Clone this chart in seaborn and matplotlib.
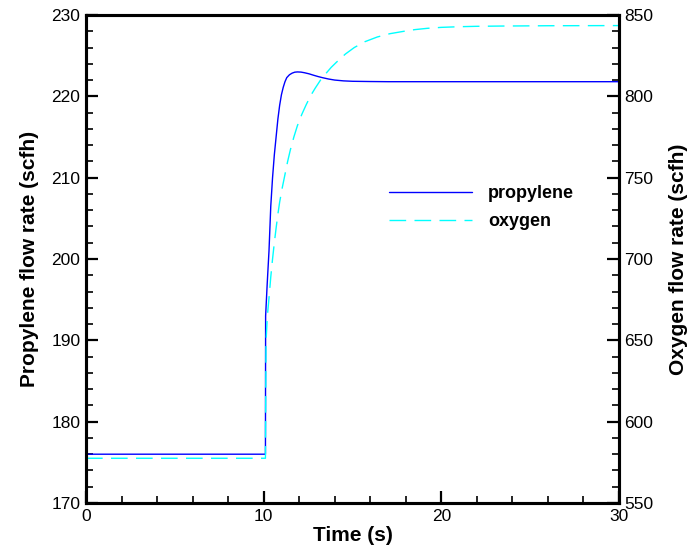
import matplotlib
matplotlib.use("Agg")
import matplotlib.pyplot as plt
from matplotlib.ticker import MultipleLocator
import seaborn as sns
import pandas as pd

# Propylene flow (left axis, scfh)
t_prop = [0, 10.1, 10.11, 10.2, 10.3, 10.4, 10.5, 10.6, 10.7, 10.8, 10.9, 11.0,
          11.1, 11.2, 11.3, 11.45, 11.6, 11.75, 11.9, 12.1, 12.3, 12.55, 12.8,
          13.05, 13.3, 13.65, 14.0, 14.5, 15.0, 16.0, 17.0, 20.0, 25.0, 30.0]
propylene = [176, 176, 193, 197, 201, 206.5, 210, 212.8, 215, 217.2, 218.9, 220.2,
             221.1, 221.8, 222.3, 222.65, 222.85, 222.97, 223.0, 222.98, 222.9, 222.77, 222.6,
             222.44, 222.3, 222.13, 222.0, 221.9, 221.85, 221.82, 221.8, 221.8, 221.8, 221.8]

# Oxygen flow (right axis, scfh)
t_oxy = [0, 10.1, 10.13, 10.2, 10.3, 10.4, 10.5, 10.6, 10.7, 10.8, 10.9, 11.05,
         11.2, 11.35, 11.5, 11.7, 11.9, 12.15, 12.4, 12.65, 12.9, 13.2, 13.5,
         13.8, 14.1, 14.6, 15.1, 15.7, 16.4, 17.1, 17.9, 18.5, 19.2, 20.0,
         21.0, 22.0, 23.3, 26.0, 30.0]
oxygen = [577.5, 577.5, 648, 664, 676, 689, 700, 710, 719, 727.5, 735, 744,
          752, 760, 767, 775, 782, 789, 795, 800.5, 805, 810, 814,
          817.8, 821, 826, 830, 833.6, 836.5, 838.5, 840, 841, 841.8, 842.4,
          842.8, 843.05, 843.2, 843.4, 843.5]

df_p = pd.DataFrame({"t": t_prop, "v": propylene})
df_o = pd.DataFrame({"t": t_oxy, "v": oxygen})

sns.set_style("ticks")
plt.rcParams["font.family"] = ["Liberation Sans", "DejaVu Sans"]
plt.rcParams["text.color"] = "black"
plt.rcParams["axes.labelcolor"] = "black"
plt.rcParams["xtick.color"] = "black"
plt.rcParams["ytick.color"] = "black"

fig = plt.figure(figsize=(6.9, 5.52), dpi=100)
ax = fig.add_axes([86/690, 1-503/552, (619-86)/690, (503-15)/552])
ax2 = ax.twinx()

sns.lineplot(data=df_p, x="t", y="v", ax=ax, color="#0000ff", lw=1.0,
             label="propylene", legend=False)
sns.lineplot(data=df_o, x="t", y="v", ax=ax2, color="#00ffff", lw=1.0,
             label="oxygen", legend=False, dashes=False)
ax2.lines[0].set_dashes([12, 6])

ax.set_xlim(0, 30)
ax.set_ylim(170, 230)
ax2.set_ylim(550, 850)
ax.xaxis.set_major_locator(MultipleLocator(10))
ax.xaxis.set_minor_locator(MultipleLocator(2))
ax.yaxis.set_major_locator(MultipleLocator(10))
ax.yaxis.set_minor_locator(MultipleLocator(2))
ax2.yaxis.set_major_locator(MultipleLocator(50))
ax2.yaxis.set_minor_locator(MultipleLocator(10))

for a in (ax, ax2):
    for s in a.spines.values():
        s.set_linewidth(2.2)
        s.set_color("black")
ax.tick_params(axis="both", which="major", direction="in", length=8.5, width=1.6,
               labelsize=12.5, pad=4, top=False, right=False, colors="black")
ax.tick_params(axis="both", which="minor", direction="in", length=5, width=1.2,
               top=False, right=False, colors="black")
ax2.tick_params(axis="y", which="major", direction="in", length=8.5, width=1.6,
                labelsize=12.5, pad=4, left=False, colors="black")
ax2.tick_params(axis="y", which="minor", direction="in", length=5, width=1.2,
                left=False, colors="black")

ax.set_xlabel("Time (s)", fontsize=15, fontweight="bold", labelpad=2, color="black")
ax.set_ylabel("Propylene flow rate (scfh)", fontsize=15, fontweight="bold",
              labelpad=9, color="black")
ax2.set_ylabel("Oxygen flow rate (scfh)", fontsize=15, fontweight="bold",
               labelpad=11, color="black")

h1 = ax.lines[0]
h2 = ax2.lines[0]
leg = ax.legend([h1, h2], ["propylene", "oxygen"], loc="upper left",
                bbox_to_anchor=((389-86)/533, (503-185)/488), frameon=False,
                borderpad=0, borderaxespad=0, handlelength=4.6, handletextpad=0.9,
                labelspacing=0.6, prop={"size": 13, "weight": "bold"})
for txt in leg.get_texts():
    txt.set_color("black")

fig.savefig("out.png", dpi=100)
